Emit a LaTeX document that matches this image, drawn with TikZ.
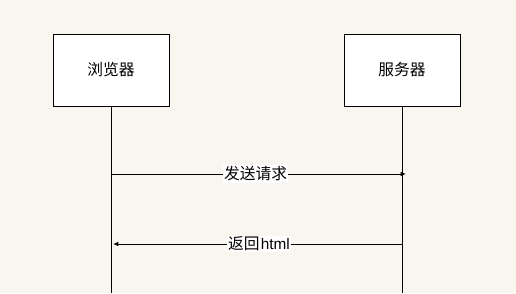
\documentclass[tikz,border=0pt]{standalone}
\usepackage{fontspec}
\setmainfont{Liberation Sans}
\newfontfamily\cjk{Noto Sans CJK SC}
\usetikzlibrary{arrows.meta,positioning,calc}

\definecolor{paper}{HTML}{F9F6F0}

\tikzset{
  actor/.style={draw, fill=white, line width=0.75pt, minimum width=87pt, minimum height=54pt, inner sep=0pt, font=\cjk\fontsize{11.8}{14}\selectfont},
  lifeline/.style={line width=0.75pt},
  msg/.style={line width=0.75pt, -{Latex[length=4pt,width=3.5pt]}},
  msglabel/.style={fill=white, inner sep=1pt, font=\fontsize{11.8}{14}\selectfont}
}

\begin{document}
\begin{tikzpicture}[x=0.75pt,y=-0.75pt]
\useasboundingbox[fill=paper] (0,0) rectangle (516,293);

% participants
\node[actor] (browser) at (111,70) {浏览器};
\node[actor] (server) at (402,70) {服务器};

% lifelines
\coordinate (browserend) at (111,293);
\coordinate (serverend) at (402,293);
\draw[lifeline] (browser.south) -- (browserend);
\draw[lifeline] (server.south) -- (serverend);

% messages
\coordinate (req-a) at (111,174);
\coordinate (req-b) at (406,174);
\coordinate (res-a) at (402,244);
\coordinate (res-b) at (113,244);
\draw[msg] (req-a) -- (req-b) node[msglabel, pos=0.49] {\cjk 发送请求};
\draw[msg] (res-a) -- (res-b) node[msglabel, pos=0.495] {\cjk 返回\kern1pt\fontsize{11.5}{13}\selectfont\normalfont html};
\end{tikzpicture}
\end{document}
